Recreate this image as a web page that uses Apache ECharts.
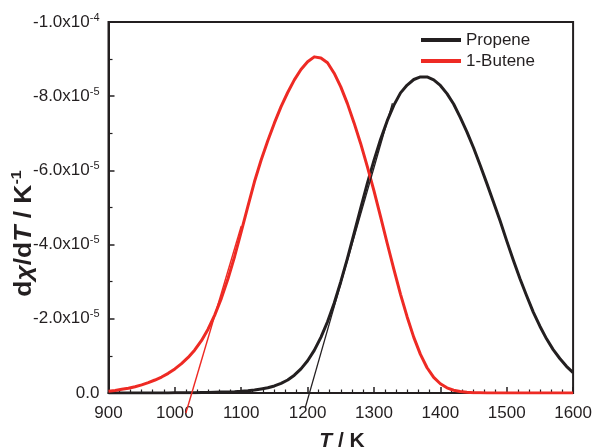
<!DOCTYPE html>
<html><head><meta charset="utf-8">
<script src="https://cdn.jsdelivr.net/npm/echarts@6/dist/echarts.min.js"></script>
<style>html,body{margin:0;padding:0;background:#fff}#c{width:595px;height:448px}</style>
</head><body><div id="c"></div>
<script>
// Temperature (K), 10 K steps, and dχ/dT (units of 1e-5 K^-1, negative axis)
const temperatures = [900, 910, 920, 930, 940, 950, 960, 970, 980, 990,
  1000, 1010, 1020, 1030, 1040, 1050, 1060, 1070, 1080, 1090,
  1100, 1110, 1120, 1130, 1140, 1150, 1160, 1170, 1180, 1190,
  1200, 1210, 1220, 1230, 1240, 1250, 1260, 1270, 1280, 1290,
  1300, 1310, 1320, 1330, 1340, 1350, 1360, 1370, 1380, 1390,
  1400, 1410, 1420, 1430, 1440, 1450, 1460, 1470, 1480, 1490,
  1500, 1510, 1520, 1530, 1540, 1550, 1560, 1570, 1580, 1590, 1600];
const butene = [-0.05, -0.07, -0.10, -0.13, -0.17, -0.22, -0.28, -0.35, -0.43, -0.53,
  -0.65, -0.79, -0.96, -1.16, -1.41, -1.72, -2.10, -2.55, -3.08, -3.68,
  -4.35, -5.03, -5.70, -6.28, -6.80, -7.28, -7.72, -8.10, -8.44, -8.72,
  -8.93, -9.06, -9.03, -8.90, -8.62, -8.25, -7.80, -7.28, -6.72, -6.10,
  -5.45, -4.75, -4.03, -3.33, -2.66, -2.05, -1.50, -1.04, -0.68, -0.42,
  -0.25, -0.14, -0.075, -0.04, -0.02, -0.01, -0.005, 0, 0, 0,
  0, 0, 0, 0, 0, 0, 0, 0, 0, 0, 0];
const propene = [0, 0, 0, 0, 0, 0, 0, 0, -0.002, -0.003,
  -0.005, -0.006, -0.008, -0.01, -0.012, -0.015, -0.02, -0.025, -0.03, -0.035,
  -0.045, -0.06, -0.08, -0.11, -0.14, -0.19, -0.26, -0.35, -0.48, -0.65,
  -0.87, -1.15, -1.50, -1.92, -2.42, -3.00, -3.63, -4.30, -4.98, -5.65,
  -6.27, -6.84, -7.34, -7.76, -8.09, -8.30, -8.45, -8.52, -8.52, -8.44,
  -8.29, -8.07, -7.79, -7.43, -7.04, -6.61, -6.14, -5.65, -5.15, -4.64,
  -4.10, -3.58, -3.08, -2.62, -2.18, -1.80, -1.46, -1.17, -0.93, -0.72, -0.55];
const VALUE_UNIT = 1e-5;
// tangent lines (onset construction), same units
const buteneTangentT = [1016.6, 1100];
const buteneTangentV = [0.54, -4.5];
const propeneTangentT = [1196.7, 1327.8];
const propeneTangentV = [0.38, -7.81];
// ticks
const xTicks = [900, 1000, 1100, 1200, 1300, 1400, 1500, 1600];
const yTickValues = [0, -2e-5, -4e-5, -6e-5, -8e-5, -1e-4];
const yTickLabels = ['0.0', '-2.0x10{s|-5}', '-4.0x10{s|-5}', '-6.0x10{s|-5}', '-8.0x10{s|-5}', '-1.0x10{s|-4}'];
const seriesNames = ['Propene', '1-Butene'];

const zip = (a, b) => a.map((v, i) => [v, b[i] * VALUE_UNIT]);
const FONT = "'Liberation Sans', Arial, sans-serif";
const INK = '#231f20';
const RED = '#ee2a24';

const chart = echarts.init(document.getElementById('c'), null, {renderer: 'canvas'});
chart.setOption({
  animation: false,
  backgroundColor: '#fff',
  grid: {left: 108.5, right: 19.5, top: 22, bottom: 55, show: true, borderColor: INK, borderWidth: 2, backgroundColor: 'transparent'},
  legend: {
    data: seriesNames, orient: 'vertical', left: 421, top: 31.5, icon: 'rect', padding: 0,
    itemWidth: 40, itemHeight: 4, itemGap: 4,
    textStyle: {fontFamily: FONT, fontSize: 17, color: INK, lineHeight: 17}
  },
  xAxis: {
    type: 'value', min: 900, max: 1600, interval: 100,
    axisLine: {show: true, onZero: false, lineStyle: {color: INK, width: 2}},
    axisTick: {show: true, inside: true, length: 6, lineStyle: {color: INK, width: 1.5}},
    minorTick: {show: true, splitNumber: 6, length: 3.5, lineStyle: {color: INK, width: 1.2}},
    splitLine: {show: false}, minorSplitLine: {show: false},
    axisLabel: {fontFamily: FONT, fontSize: 17, color: INK, margin: 12,
      formatter: v => { const i = xTicks.indexOf(Math.round(v)); return i >= 0 ? String(xTicks[i]) : ''; }}
  },
  yAxis: {
    type: 'value', min: -1e-4, max: 0, interval: 2e-5, inverse: true,
    axisLine: {show: true, onZero: false, lineStyle: {color: INK, width: 2}},
    axisTick: {show: true, inside: true, length: 6, lineStyle: {color: INK, width: 1.5}},
    minorTick: {show: true, splitNumber: 2, length: 4, lineStyle: {color: INK, width: 1.2}},
    splitLine: {show: false}, minorSplitLine: {show: false},
    axisLabel: {fontFamily: FONT, fontSize: 17, color: INK, margin: 9, lineHeight: 20,
      formatter: v => { const i = yTickValues.findIndex(t => Math.abs(t - v) < 1e-9); return i >= 0 ? yTickLabels[i] : ''; },
      rich: {s: {fontFamily: FONT, fontSize: 11, color: INK, verticalAlign: 'top', lineHeight: 11, padding: [0, 0, 6, 0]}}}
  },
  series: [
    {name: seriesNames[0], type: 'line', data: zip(temperatures, propene), smooth: false, showSymbol: false, symbol: 'none',
      color: INK, lineStyle: {color: INK, width: 3, join: 'round'}, z: 3},
    {name: seriesNames[1], type: 'line', data: zip(temperatures, butene), smooth: false, showSymbol: false, symbol: 'none',
      color: RED, lineStyle: {color: RED, width: 3, join: 'round'}, z: 4},
    {name: 'butene-tangent', type: 'line', data: zip(buteneTangentT, buteneTangentV), showSymbol: false, symbol: 'none', clip: false,
      lineStyle: {color: RED, width: 1.4}, z: 5},
    {name: 'propene-tangent', type: 'line', data: zip(propeneTangentT, propeneTangentV), showSymbol: false, symbol: 'none', clip: false,
      lineStyle: {color: INK, width: 1.3}, z: 5}
  ],
  graphic: [
    {type: 'text', x: 342, y: 441, z: 10,
      style: {text: '{i|T}{b| / K}', align: 'center', verticalAlign: 'middle', textAlign: 'center', textVerticalAlign: 'middle',
        rich: {i: {fontFamily: FONT, fontSize: 21, fontWeight: 'bold', fontStyle: 'italic', fill: INK, color: INK},
               b: {fontFamily: FONT, fontSize: 21, fontWeight: 'bold', fill: INK, color: INK}}}},
    {type: 'text', x: 23, y: 233.5, rotation: Math.PI / 2, scaleX: 1.15, z: 10,
      style: {text: '{b|d}{i|χ}{b|/d}{i|T}{b| / K}{s|-1}', align: 'center', verticalAlign: 'middle', textAlign: 'center', textVerticalAlign: 'middle',
        rich: {i: {fontFamily: FONT, fontSize: 23, fontWeight: 'bold', fontStyle: 'italic', fill: INK, color: INK, lineHeight: 26, verticalAlign: 'bottom'},
               b: {fontFamily: FONT, fontSize: 23, fontWeight: 'bold', fill: INK, color: INK, lineHeight: 26, verticalAlign: 'bottom'},
               s: {fontFamily: FONT, fontSize: 14, fontWeight: 'bold', fill: INK, color: INK, lineHeight: 13, verticalAlign: 'top'}}}}
  ]
});
</script></body></html>
